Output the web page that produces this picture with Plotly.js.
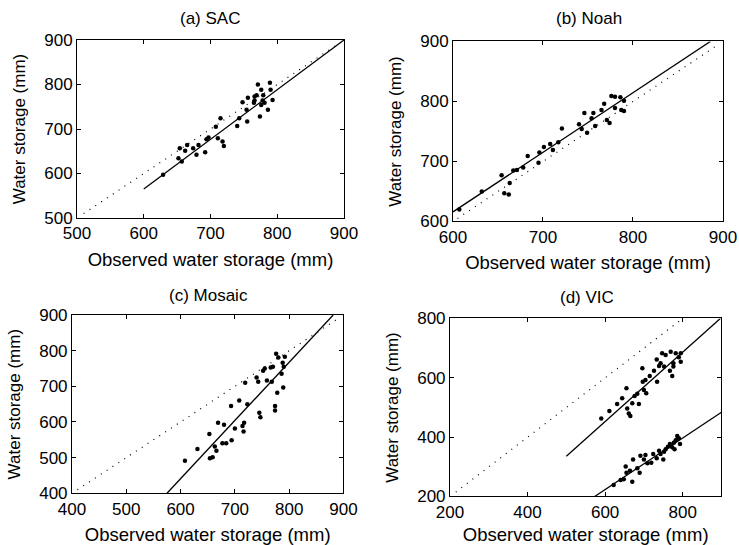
<!DOCTYPE html>
<html>
<head>
<meta charset="utf-8">
<script src="https://cdn.plot.ly/plotly-3.0.1.min.js"></script>
<style>html,body{margin:0;padding:0;background:#fff;}#chart{width:739px;height:545px;}</style>
</head>
<body>
<div id="chart"></div>
<script>
// (a) SAC
const sacObs = [629,652,657,654,665,662,679,682,674,692,694,697,708,715,711,718,720,740,743,748,754,756,755,766,765,771,769,776,779,778,774,781,789,790,793,786,776,766];
const sacMod = [597,634,627,657,664,651,642,664,657,648,677,681,705,724,679,672,662,707,724,760,743,770,717,773,759,800,776,788,776,764,728,759,804,788,765,743,754,764];
const sacFitX = [600,900];
const sacFitY = [565,900];
const sacOneX = [510,900];

// (b) Noah
const noahObs = [607,632,654,657,662,663,667,671,678,683,695,696,701,708,711,717,721,740,743,746,749,756,754,758,765,768,771,774,776,780,780,786,787,790,790];
const noahMod = [620,650,677,647,645,664,685,686,690,709,698,715,724,729,719,732,755,762,754,781,748,781,772,759,786,796,769,764,809,808,789,807,786,801,784];
const noahFitX = [600,886];
const noahFitY = [616,900];
const noahOneX = [605,893];

// (c) Mosaic
const mosObs = [608,631,653,654,659,663,666,669,680,677,684,694,693,700,708,714,716,717,723,719,740,743,745,747,752,755,759,766,770,768,774,774,778,776,780,786,789,788,792,790];
const mosMod = [491,524,566,498,501,531,519,598,592,540,540,549,645,582,660,589,573,598,650,710,725,713,626,613,744,750,716,753,755,713,645,632,682,791,781,735,697,766,783,755];
const mosFitX = [575,881];
const mosFitY = [400,900];
const mosOneX = [410,890];

// (d) VIC - two simulations
const vicObsA = [590,611,631,644,655,657,661,665,670,676,683,687,696,700,706,697,704,715,726,733,734,739,743,747,752,756,767,769,773,776,782,795,795,790,776];
const vicModA = [463,488,512,531,565,497,480,471,514,539,546,512,632,559,548,587,593,606,624,662,587,640,649,683,638,677,624,688,606,638,683,683,654,669,649];
const vicFitAX = [500,897];
const vicFitAY = [336,800];
const vicObsB = [622,640,648,653,655,664,670,672,683,689,691,700,704,709,719,724,733,739,743,750,752,756,762,767,773,777,782,786,790,793,779];
const vicModB = [239,256,258,301,280,287,250,325,295,280,337,325,340,312,314,343,329,354,343,325,351,359,368,377,366,381,390,404,396,377,359];
const vicFitBX = [573,900];
const vicFitBY = [200,484];
const vicOneX = [215,800];

const panelTitles = ['(a) SAC', '(b) Noah', '(c) Mosaic', '(d) VIC'];
const xTitle = 'Observed water storage (mm)';
const yTitle = 'Water storage (mm)';

const dotM = {color:'#000', size:4.5};
const fitL = {color:'#000', width:1.3};
const oneL = {color:'#000', width:1.2, dash:'1px,6px'};

function pts(x, y, ax){ return {x:x, y:y, mode:'markers', type:'scatter', marker:dotM, xaxis:'x'+ax, yaxis:'y'+ax, hoverinfo:'x+y'}; }
function ln(x, y, ax, style){ return {x:x, y:y, mode:'lines', type:'scatter', line:style, xaxis:'x'+ax, yaxis:'y'+ax, hoverinfo:'skip'}; }

const data = [
  ln(sacOneX, sacOneX, '', oneL), ln(sacFitX, sacFitY, '', fitL), pts(sacObs, sacMod, ''),
  ln(noahOneX, noahOneX, '2', oneL), ln(noahFitX, noahFitY, '2', fitL), pts(noahObs, noahMod, '2'),
  ln(mosOneX, mosOneX, '3', oneL), ln(mosFitX, mosFitY, '3', fitL), pts(mosObs, mosMod, '3'),
  ln(vicOneX, vicOneX, '4', oneL), ln(vicFitAX, vicFitAY, '4', fitL), ln(vicFitBX, vicFitBY, '4', fitL),
  pts(vicObsA, vicModA, '4'), pts(vicObsB, vicModB, '4')
];

const fontFam = 'Liberation Sans, Arial, Helvetica, sans-serif';
function axis(range, dtick, domain, anchor, isY){
  return {
    range: range, dtick: dtick, tick0: 0, domain: domain, anchor: anchor,
    showline: true, linecolor: '#000', linewidth: 1, mirror: 'ticks',
    ticks: 'inside', ticklen: 4, tickcolor: '#000', tickwidth: 1,
    showgrid: false, zeroline: false,
    tickfont: {family: fontFam, size: 17, color: '#000'},
    title: {text: isY ? yTitle : xTitle, font: {family: fontFam, size: isY ? 17 : 18.5, color: '#000'}, standoff: isY ? 14 : 10},
    automargin: false, fixedrange: true
  };
}

const tFont = {family:fontFam, size:17, color:'#000'};
const layout = {
  width: 739, height: 545,
  margin: {l:0, r:0, t:0, b:0},
  paper_bgcolor: '#fff', plot_bgcolor: '#fff',
  showlegend: false,
  font: {family: fontFam, color: '#000'},
  xaxis:  axis([500,900], 100, [0.1042, 0.4655], 'y', false),
  yaxis:  axis([500,900], 100, [0.6, 0.9266], 'x', true),
  xaxis2: axis([600,900], 100, [0.613, 0.9783], 'y2', false),
  yaxis2: axis([600,900], 100, [0.5936, 0.9239], 'x2', true),
  xaxis3: axis([400,900], 100, [0.0974, 0.4648], 'y3', false),
  yaxis3: axis([400,900], 100, [0.0949, 0.422], 'x3', true),
  xaxis4: axis([200,900], 200, [0.6089, 0.9763], 'y4', false),
  yaxis4: axis([200,800], 200, [0.089, 0.4156], 'x4', true),
  annotations: [
    {text: panelTitles[0], x: 210/739, y: 1-18/545, xref:'paper', yref:'paper', xanchor:'center', yanchor:'middle', showarrow:false, font:tFont},
    {text: panelTitles[1], x: 589/739, y: 1-18/545, xref:'paper', yref:'paper', xanchor:'center', yanchor:'middle', showarrow:false, font:tFont},
    {text: panelTitles[2], x: 208/739, y: 1-295/545, xref:'paper', yref:'paper', xanchor:'center', yanchor:'middle', showarrow:false, font:tFont},
    {text: panelTitles[3], x: 587/739, y: 1-297/545, xref:'paper', yref:'paper', xanchor:'center', yanchor:'middle', showarrow:false, font:tFont}
  ]
};

Plotly.newPlot('chart', data, layout, {displayModeBar: false, staticPlot: true});
</script>
</body>
</html>
